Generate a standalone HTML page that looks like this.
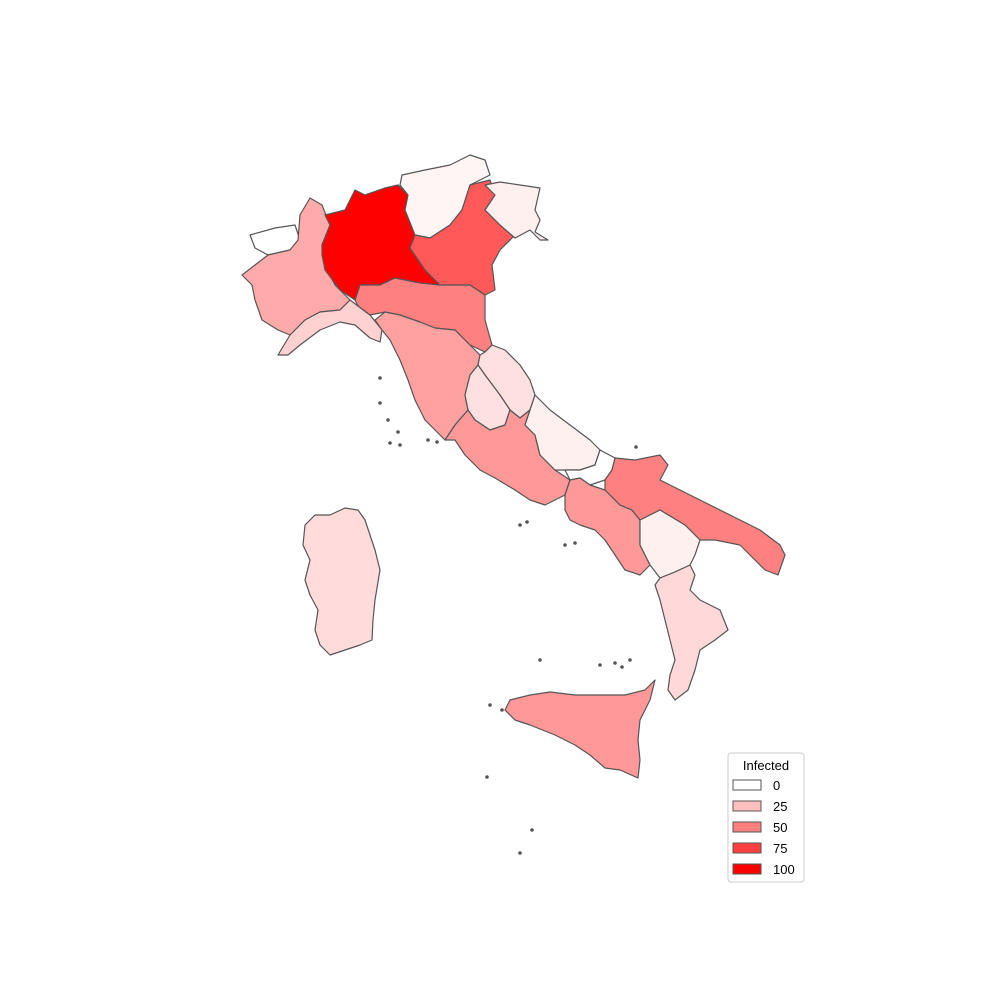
<!DOCTYPE html>
<html><head><meta charset="utf-8"><style>
html,body{margin:0;padding:0;background:#fff;width:1000px;height:1000px;overflow:hidden;font-family:"Liberation Sans","DejaVu Sans",sans-serif}
</style></head><body>
<svg id="map" width="1000" height="1000" viewBox="0 0 1000 1000" xmlns="http://www.w3.org/2000/svg">
<g id="regions"></g>
<g id="islands"></g>
<g id="legend">
<rect x="728" y="753" width="76" height="129" rx="3" fill="#fff" stroke="#ccc"/>
<text x="766" y="770" text-anchor="middle" font-size="13" fill="#000">Infected</text>
</g>
</svg>
<script>
const regionNames=["Valle d'Aosta","Piemonte","Liguria","Lombardia","Trentino","Veneto","Friuli","Emilia-Romagna","Toscana","Marche","Umbria","Lazio","Abruzzo","Molise","Campania","Puglia","Basilicata","Calabria","Sicilia","Sardegna"];
const regionValues=[0,33,18,100,4,65,6,50,37,12,12,40,6,0,40,50,6,15,40,14];
const legendValues=[0,25,50,75,100];
const shapes=[
[[250,235],[275,228],[295,225],[300,240],[290,250],[268,255],[255,248]],
[[300,215],[310,198],[322,205],[330,225],[322,245],[325,265],[335,285],[350,300],[340,310],[320,312],[305,320],[290,335],[278,330],[270,325],[262,320],[255,300],[252,285],[242,275],[255,265],[268,255],[290,250],[298,240]],
[[278,355],[290,335],[305,320],[320,312],[340,310],[350,300],[358,306],[370,315],[382,330],[380,342],[370,338],[355,325],[340,322],[320,330],[300,345],[288,355]],
[[322,245],[330,225],[325,215],[345,210],[355,190],[365,195],[385,188],[398,185],[408,195],[405,210],[415,235],[410,248],[425,270],[440,285],[420,283],[395,278],[380,285],[360,285],[355,300],[340,290],[325,270],[322,255]],
[[402,175],[425,170],[450,165],[470,155],[485,160],[490,175],[470,185],[462,210],[450,225],[430,238],[415,235],[405,210],[408,195],[400,185]],
[[462,210],[470,185],[490,180],[495,195],[485,210],[500,225],[515,235],[500,250],[492,265],[495,290],[485,295],[470,285],[440,285],[425,270],[410,248],[415,235],[430,238],[450,225]],
[[485,185],[500,182],[520,185],[540,188],[535,210],[540,220],[535,232],[548,240],[540,240],[530,230],[515,238],[500,225],[485,210],[495,195]],
[[355,300],[360,285],[380,285],[395,278],[420,283],[440,285],[470,285],[485,295],[485,320],[492,345],[485,352],[470,345],[455,330],[435,328],[420,322],[400,315],[385,312],[370,315],[358,306]],
[[375,320],[385,312],[400,315],[420,322],[435,328],[455,330],[470,345],[480,355],[478,365],[470,375],[465,395],[468,410],[455,425],[445,440],[435,430],[425,420],[415,400],[408,380],[400,360],[390,340],[382,330]],
[[485,352],[492,345],[505,350],[520,365],[530,380],[535,395],[530,410],[520,418],[510,410],[500,395],[485,375],[478,365],[480,355]],
[[470,375],[478,365],[485,375],[500,395],[510,410],[505,425],[490,430],[475,420],[468,410],[465,395]],
[[455,425],[468,410],[475,420],[490,430],[505,425],[510,410],[520,418],[530,410],[525,425],[535,435],[540,455],[555,470],[570,480],[565,495],[545,505],[530,500],[515,490],[495,478],[480,470],[465,455],[455,440],[445,440]],
[[530,410],[535,395],[550,410],[570,425],[590,440],[600,450],[595,465],[580,470],[565,470],[555,470],[540,455],[535,435],[525,425]],
[[595,465],[600,450],[615,458],[612,470],[605,480],[590,485],[580,478],[570,480],[565,470],[580,470]],
[[565,495],[570,480],[580,478],[590,485],[605,490],[620,505],[632,510],[640,520],[640,545],[650,565],[640,575],[625,570],[615,555],[605,540],[595,530],[580,525],[570,520],[565,510]],
[[612,470],[615,458],[635,460],[660,455],[668,465],[660,480],[700,500],[730,515],[760,530],[780,545],[785,555],[778,575],[765,570],[755,560],[740,545],[715,540],[700,540],[685,525],[660,510],[640,520],[632,510],[620,505],[605,490],[605,480]],
[[640,520],[660,510],[685,525],[700,540],[695,555],[690,565],[675,572],[660,578],[650,565],[640,545]],
[[660,578],[675,572],[690,565],[695,575],[690,590],[700,600],[720,610],[728,630],[715,640],[700,650],[695,670],[688,690],[675,700],[668,690],[670,675],[675,660],[670,640],[665,620],[660,600],[655,585]],
[[510,700],[530,695],[550,692],[575,695],[600,695],[625,695],[645,690],[655,680],[650,700],[640,720],[638,740],[640,760],[638,778],[620,770],[605,768],[590,755],[575,745],[555,735],[530,725],[515,720],[505,710]],
[[305,525],[315,515],[330,515],[345,508],[358,510],[365,520],[370,535],[375,550],[380,570],[375,600],[373,620],[372,640],[360,645],[345,650],[330,655],[320,645],[315,630],[318,610],[310,595],[305,580],[310,560],[303,545]]
];
const islandPts=[[380,378],[380,403],[388,420],[400,445],[390,443],[428,440],[437,442],[520,525],[527,522],[575,543],[565,545],[540,660],[600,665],[615,663],[630,660],[622,667],[490,705],[502,710],[487,777],[532,830],[520,853],[636,447],[398,432]];
const NS="http://www.w3.org/2000/svg";
function colorFor(v){const c=Math.round(255*(1-v/100));return `rgb(255,${c},${c})`;}
const rg=document.getElementById('regions');
regionNames.forEach((n,i)=>{
  const p=document.createElementNS(NS,'polygon');
  p.setAttribute('points',shapes[i].map(q=>q.join(',')).join(' '));
  p.setAttribute('fill',colorFor(regionValues[i]));
  p.setAttribute('stroke','#555');
  p.setAttribute('stroke-width','1.2');
  p.setAttribute('stroke-linejoin','round');
  
  
  rg.appendChild(p);
});
const ig=document.getElementById('islands');
islandPts.forEach(q=>{
  const c=document.createElementNS(NS,'circle');
  c.setAttribute('cx',q[0]);c.setAttribute('cy',q[1]);c.setAttribute('r','1.8');
  c.setAttribute('fill','#555');
  
  
  ig.appendChild(c);
});
const lg=document.getElementById('legend');
legendValues.forEach((v,i)=>{
  const y=780+i*21;
  const r=document.createElementNS(NS,'rect');
  r.setAttribute('x',733);r.setAttribute('y',y);r.setAttribute('width',28);r.setAttribute('height',10);
  r.setAttribute('fill',colorFor(v));r.setAttribute('stroke','#555');
  
  
  lg.appendChild(r);
  const t=document.createElementNS(NS,'text');
  t.setAttribute('x',773);t.setAttribute('y',y+10);t.setAttribute('font-size','13');
  t.textContent=v;
  
  
  lg.appendChild(t);
});
</script>
</body></html>
